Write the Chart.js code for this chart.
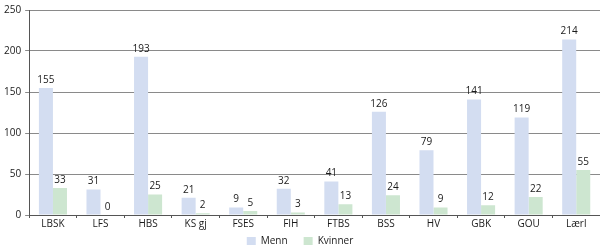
<!DOCTYPE html>
<html><head><meta charset="utf-8">
<script src="https://cdn.jsdelivr.net/npm/chart.js@4/dist/chart.umd.min.js"></script>
<style>html,body{margin:0;padding:0;background:#fff}#w{width:600px;height:247px}</style>
</head><body><div id="w"><canvas id="c"></canvas></div>
<script>
const categories = ["LBSK","LFS","HBS","KS gj","FSES","FIH","FTBS","BSS","HV","GBK","GOU","Lærl"];
const menn = [155,31,193,21,9,32,41,126,79,141,119,214];
const kvinner = [33,0,25,2,5,3,13,24,9,12,22,55];
const yTicks = [0,50,100,150,200,250];

const FONT = '"Open Sans", sans-serif';

const labelPlugin = {
  id:'vals',
  afterDatasetsDraw(chart){
    const ctx = chart.ctx;
    ctx.save();
    ctx.font = '10px ' + FONT;
    ctx.fillStyle = '#1a1a1a';
    ctx.textAlign = 'center';
    ctx.textBaseline = 'bottom';
    chart.data.datasets.forEach((ds,i)=>{
      chart.getDatasetMeta(i).data.forEach((bar,j)=>{
        ctx.fillText(String(ds.data[j]), bar.x, bar.y - 3);
      });
    });
    ctx.restore();
  }
};

// compact legend: keep wide horizontal spacing but reduce vertical footprint
const legendFit = {
  id:'legendFit',
  beforeUpdate(chart){
    const lg = chart.legend;
    if (!lg || lg._patched) return;
    lg._patched = true;
    const origFit = lg.fit.bind(lg);
    lg.fit = function(){ origFit(); this.height = 17; };
    lg.draw = function(){
      if (!this.options.display) return;
      const c = this.ctx; c.save(); c.translate(0, -10); this._draw(); c.restore();
    };
  }
};

new Chart(document.getElementById('c'), {
  type:'bar',
  data:{labels:categories, datasets:[
    {label:'Menn', data:menn, backgroundColor:'#d3ddf1'},
    {label:'Kvinner', data:kvinner, backgroundColor:'#cde6d0'}
  ]},
  options:{
    responsive:true, maintainAspectRatio:false, animation:false,
    layout:{padding:{top:0,right:0,left:0,bottom:0}},
    datasets:{bar:{categoryPercentage:0.59, barPercentage:1.0}},
    plugins:{
      legend:{position:'bottom', labels:{boxWidth:9, boxHeight:8, padding:16, color:'#1a1a1a', font:{family:FONT, size:10}}},
      tooltip:{enabled:false}
    },
    scales:{
      x:{grid:{display:true, drawOnChartArea:false, tickLength:3, color:'#555'}, border:{color:'#555'},
         ticks:{color:'#1a1a1a', font:{family:FONT, size:10}, padding:0, maxRotation:0, autoSkip:false}},
      y:{min:0,max:250, afterBuildTicks(a){a.ticks = yTicks.map(v=>({value:v}));},
         grid:{color:'#8a8a8a', tickLength:4}, border:{color:'#555'},
         ticks:{color:'#1a1a1a', font:{family:FONT, size:10}, padding:4}}
    }
  },
  plugins:[labelPlugin, legendFit]
});
</script></body></html>
